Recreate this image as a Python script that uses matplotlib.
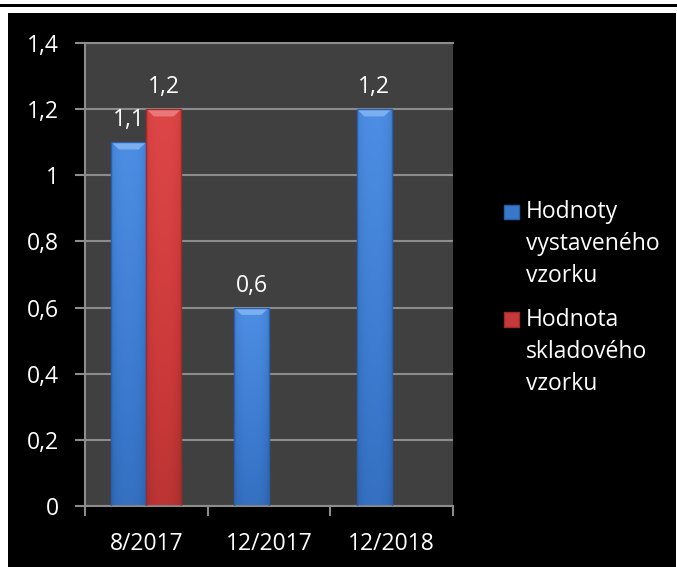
import numpy as np
import matplotlib
matplotlib.use("Agg")
import matplotlib.pyplot as plt
from matplotlib.patches import Rectangle, Polygon, Patch
from matplotlib.colors import LinearSegmentedColormap
from matplotlib.legend_handler import HandlerPatch

# ── Data ──────────────────────────────────────────────────────────────────────
categories = ["8/2017", "12/2017", "12/2018"]
exhibited = [1.1, 0.6, 1.2]          # Hodnoty vystaveného vzorku
stored = [1.2, np.nan, np.nan]       # Hodnota skladového vzorku
series_names = ["Hodnoty\nvystaveného\nvzorku", "Hodnota\nskladového\nvzorku"]
y_ticks = [0, 0.2, 0.4, 0.6, 0.8, 1.0, 1.2, 1.4]

FONT = "Open Sans"
FS = 16.5
LINESP = 1.45
# (cap, top, middle, bottom)
BLUE = ("#8cbcf5", "#4f90e6", "#3a78cc", "#2a5ea8")
RED = ("#f08a8a", "#e04848", "#c93838", "#9e2b2b")


def fmt(v):
    return f"{v:g}".replace(".", ",")


def shade_bar(ax, patch, cols):
    x, y = patch.get_x(), patch.get_y()
    w, h = patch.get_width(), patch.get_height()
    if not np.isfinite(h) or h <= 0:
        return
    # vertical + horizontal shading, clipped to the bar
    cmap = LinearSegmentedColormap.from_list("b", [cols[3], cols[2], cols[1]])
    vy = np.linspace(0, 1, 64)[:, None]
    vx = np.linspace(-1, 1, 32)[None, :]
    grad = 0.35 + 0.6 * vy - 0.25 * np.abs(vx) ** 3
    im = ax.imshow(grad, cmap=cmap, vmin=0, vmax=1, origin="lower",
                   extent=(x, x + w, y, y + h), aspect="auto", zorder=2)
    im.set_clip_path(patch)
    # bevelled cap
    cap = 0.022
    inset = w * 0.22
    ax.add_patch(Polygon([(x, y + h), (x + w, y + h),
                          (x + w - inset, y + h - cap), (x + inset, y + h - cap)],
                         closed=True, facecolor=cols[0], edgecolor="none",
                         alpha=0.75, zorder=3))
    ax.add_patch(Rectangle((x, y), w, h, fill=False, edgecolor=cols[3],
                           linewidth=1.0, zorder=3))


def top_square(legend, orig_handle, xdescent, ydescent, width, height, fontsize):
    # put the key square next to the first line of a multi-line label
    s = height
    return Rectangle((-xdescent, -ydescent + LINESP * fontsize), s, s)


# ── Figure ────────────────────────────────────────────────────────────────────
fig = plt.figure(figsize=(6.77, 5.67), dpi=100)
fig.patch.set_facecolor("white")
fig.patches.append(Rectangle((8 / 677, 0), 668 / 677, 1 - 13 / 567,
                             transform=fig.transFigure, facecolor="black",
                             edgecolor="none", zorder=-2))
fig.patches.append(Rectangle((0, 1 - 7 / 567), 1, 3 / 567,
                             transform=fig.transFigure, facecolor="black",
                             edgecolor="none", zorder=-2))

ax = fig.add_axes([85 / 677, 1 - 506 / 567, 368 / 677, 463 / 567])
ax.set_facecolor("#404040")

x = np.arange(len(categories))
w = 0.285
b1 = ax.bar(x - w / 2, exhibited, w, color=BLUE[2], label=series_names[0], zorder=2)
b2 = ax.bar(x + w / 2, stored, w, color=RED[2], label=series_names[1], zorder=2)

for p in b1.patches:
    shade_bar(ax, p, BLUE)
    p.set_alpha(0)
for p in b2.patches:
    shade_bar(ax, p, RED)
    p.set_alpha(0)

# data labels
for bars, vals in ((b1, exhibited), (b2, stored)):
    for p, v in zip(bars.patches, vals):
        if np.isfinite(v):
            ax.annotate(fmt(v), (p.get_x() + p.get_width() / 2, v),
                        xytext=(0, 7), textcoords="offset points",
                        ha="center", va="bottom", color="white",
                        fontsize=FS, family=FONT, zorder=5)

# axes
ax.set_xlim(-0.5, len(categories) - 0.5)
ax.set_ylim(0, 1.4)
ax.set_yticks(y_ticks)
ax.set_yticklabels([fmt(t) for t in y_ticks], family=FONT, fontsize=FS, color="white")
ax.set_xticks(x)
ax.set_xticklabels(categories, family=FONT, fontsize=FS, color="white")
ax.set_xticks(np.arange(len(categories) + 1) - 0.5, minor=True)
ax.tick_params(axis="x", which="major", length=0, pad=19)
ax.tick_params(axis="x", which="minor", length=7, width=1.5, color="#8c8c8c", direction="out")
ax.tick_params(axis="y", length=7, width=1.5, color="#8c8c8c", pad=12)
ax.yaxis.grid(True, color="#8c8c8c", linewidth=1.5, zorder=1)
ax.set_axisbelow(True)
for side in ("left", "bottom", "top"):
    ax.spines[side].set_color("#8c8c8c")
    ax.spines[side].set_linewidth(1.5)
ax.spines["right"].set_visible(False)

# legend
handles = [Patch(facecolor=BLUE[2], edgecolor=BLUE[3]),
           Patch(facecolor=RED[2], edgecolor=RED[3])]
leg = fig.legend(handles, series_names, loc="upper left",
                 bbox_to_anchor=(495 / 677, 1 - 191 / 567),
                 frameon=False, prop={"family": FONT, "size": FS},
                 labelcolor="white", handlelength=0.6, handleheight=0.6,
                 handletextpad=0.35, labelspacing=0.85, borderaxespad=0,
                 handler_map={Patch: HandlerPatch(patch_func=top_square)})
for t in leg.get_texts():
    t.set_linespacing(LINESP)

fig.savefig("out.png", dpi=100, facecolor=fig.get_facecolor())
